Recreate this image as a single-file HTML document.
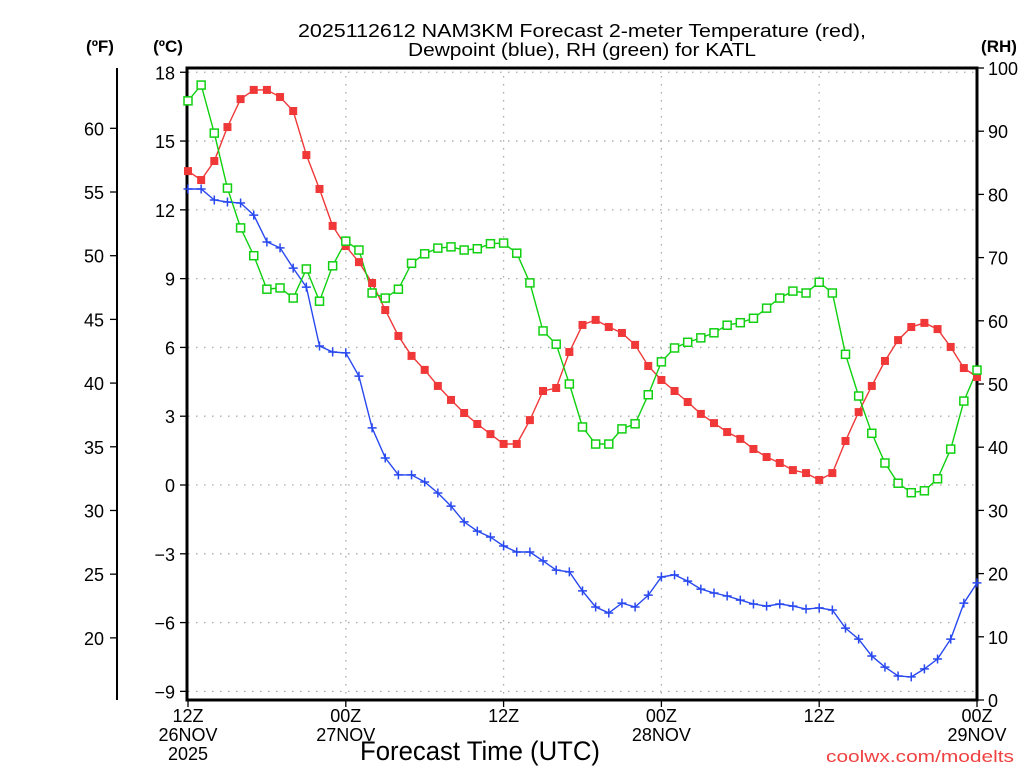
<!DOCTYPE html>
<html><head><meta charset="utf-8"><style>
html,body{margin:0;padding:0;background:#fff;}
svg{display:block;font-family:"Liberation Sans",sans-serif;}
</style></head><body>
<svg id="chart" width="1024" height="768" viewBox="0 0 1024 768" xmlns="http://www.w3.org/2000/svg">
<rect width="1024" height="768" fill="#fff"/>
<g font-size="18" fill="#000" text-anchor="middle">
<text x="582" y="37" textLength="568" lengthAdjust="spacingAndGlyphs">2025112612 NAM3KM Forecast 2-meter Temperature (red),</text>
<text x="582" y="56" textLength="348" lengthAdjust="spacingAndGlyphs">Dewpoint (blue), RH (green) for KATL</text>
</g>
<text x="100" y="52" font-size="17" font-weight="bold" text-anchor="middle">(ºF)</text>
<text x="168" y="52" font-size="17" font-weight="bold" text-anchor="middle">(ºC)</text>
<text x="999" y="52" font-size="17" font-weight="bold" text-anchor="middle">(RH)</text>
<text x="480" y="760" font-size="27" text-anchor="middle" textLength="240" lengthAdjust="spacingAndGlyphs">Forecast Time (UTC)</text>
<text x="1014" y="762" font-size="17" fill="#f04040" text-anchor="end" textLength="188" lengthAdjust="spacingAndGlyphs">coolwx.com/modelts</text>
<g id="grid"></g>
<g id="axes"></g>
<g id="series"></g>
</svg>
<script>
const tempC = [13.69,13.30,14.13,15.61,16.83,17.23,17.23,16.92,16.31,14.39,12.91,11.30,10.42,9.72,8.81,7.63,6.50,5.63,5.02,4.32,3.71,3.14,2.66,2.22,1.79,1.79,2.83,4.10,4.23,5.80,6.98,7.20,6.89,6.63,6.11,5.19,4.58,4.10,3.62,3.10,2.70,2.31,2.01,1.57,1.22,0.96,0.65,0.52,0.22,0.52,1.92,3.18,4.32,5.41,6.32,6.89,7.07,6.80,6.02,5.10,4.71];
const dewC = [12.91,12.91,12.43,12.34,12.30,11.77,10.60,10.34,9.46,8.63,6.06,5.80,5.76,4.75,2.49,1.18,0.44,0.44,0.13,-0.35,-0.92,-1.61,-2.01,-2.27,-2.66,-2.92,-2.92,-3.31,-3.71,-3.79,-4.62,-5.32,-5.58,-5.15,-5.32,-4.80,-4.01,-3.92,-4.19,-4.54,-4.71,-4.84,-5.02,-5.19,-5.28,-5.19,-5.28,-5.41,-5.36,-5.45,-6.24,-6.72,-7.46,-7.94,-8.33,-8.37,-8.02,-7.59,-6.72,-5.15,-4.27];
const rh = [94.8,97.3,89.7,81.0,74.7,70.3,65.0,65.2,63.6,68.2,63.1,68.7,72.6,71.2,64.4,63.6,65.0,69.1,70.6,71.5,71.7,71.2,71.4,72.2,72.3,70.7,66.0,58.4,56.3,50.0,43.2,40.5,40.5,42.9,43.7,48.3,53.5,55.7,56.6,57.3,58.1,59.3,59.7,60.4,62.0,63.6,64.7,64.4,66.1,64.4,54.7,48.1,42.2,37.5,34.3,32.8,33.1,35.0,39.7,47.3,52.2];
const cTicks = [18,15,12,9,6,3,0,-3,-6,-9];
const fTicks = [60,55,50,45,40,35,30,25,20];
const rhTicks = [0,10,20,30,40,50,60,70,80,90,100];
const timeHours = [0,12,24,36,48,60];
const timeLabels = [["12Z","26NOV","2025"],["00Z","27NOV"],["12Z"],["00Z","28NOV"],["12Z"],["00Z","29NOV"]];

const NS="http://www.w3.org/2000/svg";
const X0=188,X1=977,Y0=68,Y1=700;
const xs=h=>X0+(X1-X0)*h/60;
const yC=c=>485-22.93*c;
const yF=f=>yC((f-32)*5/9);
const yRH=r=>Y1-(Y1-Y0)*r/100;
function el(tag,attrs,parent,txt){const e=document.createElementNS(NS,tag);for(const k in attrs)e.setAttribute(k,attrs[k]);if(txt!==undefined)e.textContent=txt;parent.appendChild(e);return e;}
const grid=document.getElementById('grid'),axes=document.getElementById('axes'),series=document.getElementById('series');

cTicks.forEach(c=>{
  const y=yC(c);
  const g=el('line',{x1:X0,x2:X1,y1:y,y2:y,stroke:'#aaa','stroke-width':1.3,'stroke-dasharray':'1.5 6.5'},grid);
  
  
  const t=el('line',{x1:X0-8,x2:X0,y1:y,y2:y,stroke:'#000','stroke-width':1.3},axes);
  
  
  const l=el('text',{x:X0-13,y:y+7,'font-size':18,'text-anchor':'end',fill:'#000'},axes,c<0?'\u2212'+(-c):String(c));
  
  
});
[12,24,36,48].forEach(h=>{
  const g=el('line',{x1:xs(h),x2:xs(h),y1:Y0,y2:Y1,stroke:'#aaa','stroke-width':1.3,'stroke-dasharray':'1.5 6.5'},grid);
  
  
});
fTicks.forEach(f=>{
  const y=yF(f);
  const t=el('line',{x1:110,x2:117,y1:y,y2:y,stroke:'#000','stroke-width':1.3},axes);
  
  
  const l=el('text',{x:104,y:y+7,'font-size':18,'text-anchor':'end',fill:'#000'},axes,String(f));
  
  
});
rhTicks.forEach(r=>{
  const y=yRH(r);
  const t=el('line',{x1:X1,x2:X1+7,y1:y,y2:y,stroke:'#000','stroke-width':1.3},axes);
  
  
  const l=el('text',{x:X1+11,y:y+7,'font-size':18,fill:'#000'},axes,String(r));
  
  
});
timeHours.forEach((h,i)=>{
  const x=xs(h);
  const t=el('line',{x1:x,x2:x,y1:Y1,y2:Y1+7,stroke:'#000','stroke-width':1.3},axes);
  
  
  timeLabels[i].forEach((s,j)=>{
    const l=el('text',{x:x,y:722+j*19,'font-size':18,'text-anchor':'middle',fill:'#000'},axes,s);
    
    
  });
});
const fAxis=el('line',{x1:117,x2:117,y1:Y0,y2:Y1,stroke:'#000','stroke-width':2},axes);


const box=el('rect',{x:X0-1,y:Y0,width:X1-X0+1,height:Y1-Y0,fill:'none',stroke:'#000','stroke-width':3},axes);



function line(vals,yf,color,name){
  const pts=vals.map((v,i)=>xs(i).toFixed(1)+','+yf(v).toFixed(1)).join(' ');
  const p=el('polyline',{points:pts,fill:'none',stroke:color,'stroke-width':1.4},series);
  
  
}
line(tempC,yC,'#f03838','temperature');
line(dewC,yC,'#2848f0','dewpoint');
line(rh,yRH,'#10d010','rh');
tempC.forEach((v,i)=>{
  const m=el('rect',{x:xs(i)-4,y:yC(v)-4,width:8,height:8,fill:'#f03838'},series);
  
  
});
dewC.forEach((v,i)=>{
  const x=xs(i),y=yC(v);
  const m=el('path',{d:`M${x-4.5},${y}H${x+4.5}M${x},${y-4.5}V${y+4.5}`,stroke:'#2848f0','stroke-width':1.5,fill:'none'},series);
  
  
});
rh.forEach((v,i)=>{
  const m=el('rect',{x:xs(i)-4,y:yRH(v)-4,width:8,height:8,fill:'#fff',stroke:'#10d010','stroke-width':1.5},series);
  
  
});
</script>
</body></html>
